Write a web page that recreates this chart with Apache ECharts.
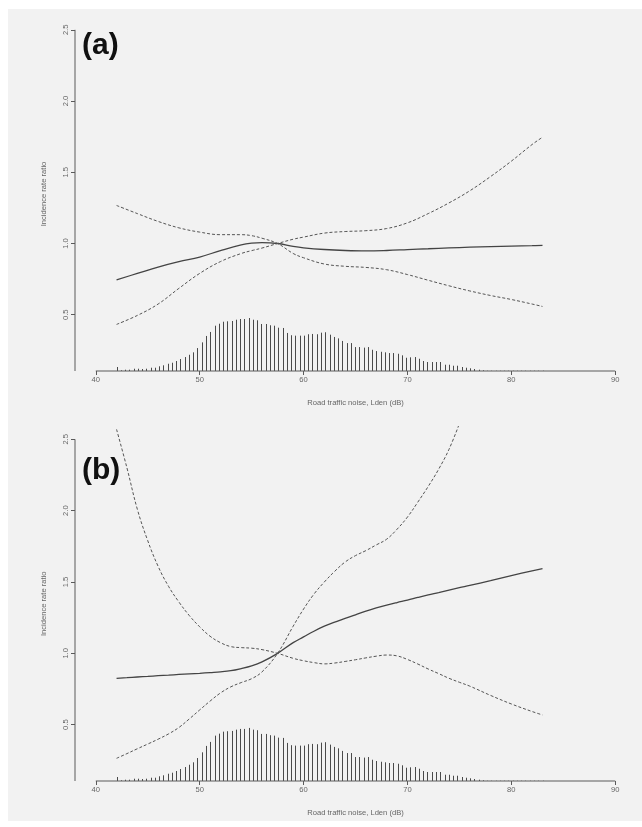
<!DOCTYPE html>
<html>
<head>
<meta charset="utf-8">
<script src="https://cdn.jsdelivr.net/npm/echarts@6/dist/echarts.min.js"></script>
<style>
html,body{margin:0;padding:0;background:#ffffff;}
#chart{width:642px;height:827px;}
</style>
</head>
<body>
<div id="chart"></div>
<script>
// ---- data ----
const xTicks = [40, 50, 60, 70, 80, 90];
const yTicks = [0.5, 1.0, 1.5, 2.0, 2.5];
const xRange = [38, 92];
const yRange = [0.105, 2.59];
const xAxisEnds = [40, 90];
const yAxisTop = 2.5;

// histogram of exposure (bin heights in IRR units above the base line)
const binStart = 42;
const binWidth = 0.41;
const histH = [
  0.028,0.005,0.009,0.009,0.016,0.016,0.014,0.016,0.023,0.023,
  0.033,0.040,0.051,0.058,0.070,0.084,0.098,0.114,0.131,0.161,
  0.201,0.246,0.274,0.318,0.332,0.346,0.349,0.351,0.360,0.365,
  0.365,0.372,0.360,0.356,0.330,0.330,0.321,0.318,0.304,0.302,
  0.267,0.251,0.248,0.248,0.248,0.258,0.260,0.258,0.269,0.272,
  0.255,0.239,0.229,0.211,0.196,0.196,0.168,0.168,0.164,0.168,
  0.149,0.140,0.135,0.131,0.126,0.126,0.121,0.110,0.093,0.096,
  0.098,0.086,0.070,0.063,0.063,0.063,0.063,0.044,0.044,0.037,
  0.037,0.028,0.023,0.019,0.014,0.009,0.005,0.002,0.002,0.002,
  0.002,0.002,0.002,0.002,0.002,0.002,0.002,0.002,0.002,0.002,
  0.002
];

// panel (a)
const aX    = [42,44,46,48,50,52,54,55,56,57.5,59,60,62,64,66,68,70,72,74,76,78,80,82,83];
const aFit  = [0.745,0.79,0.835,0.873,0.905,0.95,0.99,1.002,1.006,1.0,0.98,0.97,0.958,0.951,0.948,0.951,0.957,0.963,0.969,0.974,0.978,0.982,0.985,0.987];
const aCiA  = [1.267,1.21,1.155,1.11,1.08,1.062,1.062,1.055,1.037,1.0,0.93,0.9,0.856,0.84,0.832,0.816,0.782,0.742,0.703,0.667,0.635,0.607,0.575,0.558];
const aCiB  = [0.432,0.495,0.575,0.685,0.79,0.873,0.93,0.95,0.968,1.0,1.03,1.045,1.073,1.084,1.09,1.105,1.145,1.21,1.285,1.37,1.47,1.578,1.695,1.746];

// panel (b)
const bX    = [42,43,44,45,46,47,48,49,50,51,52,53,54,55,56,57.5,59,60,61,62,63,64,65,66,67,68,69,70,71,72,73,74,75,76,78,80,82,83];
const bFit  = [0.825,0.829,0.834,0.838,0.843,0.847,0.852,0.856,0.860,0.865,0.870,0.878,0.893,0.912,0.94,1.0,1.075,1.115,1.155,1.19,1.218,1.245,1.27,1.295,1.318,1.338,1.356,1.373,1.392,1.41,1.426,1.443,1.46,1.476,1.51,1.545,1.578,1.593];
const bCiA  = [2.57,2.30,2.01,1.79,1.61,1.47,1.36,1.265,1.186,1.12,1.075,1.047,1.04,1.036,1.026,1.0,0.965,0.948,0.935,0.926,0.932,0.943,0.955,0.968,0.98,0.988,0.982,0.957,0.925,0.89,0.858,0.825,0.797,0.77,0.705,0.645,0.592,0.568];
const bCiBX = [42,43,44,45,46,47,48,49,50,51,52,53,54,55,56,57.5,59,60,61,62,63,64,65,66,67,68,69,70,71,72,73,74,75];
const bCiB  = [0.264,0.297,0.331,0.364,0.398,0.435,0.48,0.54,0.603,0.665,0.722,0.765,0.795,0.822,0.87,1.0,1.19,1.31,1.415,1.50,1.575,1.64,1.685,1.72,1.76,1.80,1.87,1.955,2.06,2.17,2.29,2.43,2.61];

const xName = 'Road traffic noise, Lden (dB)';
const yName = 'Incidence rate ratio';

// ---- build ----
const pairs = (xs, ys) => ys.map((v, i) => [xs[i], v]);
const histData = histH.map((h, i) => [binStart + i * binWidth, h]);

const FONT = 'Liberation Sans, Arial, sans-serif';
const AX = '#5a5a5a';
const TXT = '#666666';

function xAxisCfg(gi) {
  return {
    gridIndex: gi, type: 'value', min: xRange[0], max: xRange[1],
    axisLine: {show: false}, splitLine: {show: false},
    axisTick: {show: true, customValues: xTicks, length: 4, lineStyle: {color: AX, width: 1}},
    axisLabel: {customValues: xTicks, margin: 5, fontSize: 7.6, color: TXT, fontFamily: FONT},
    name: xName, nameLocation: 'middle', nameGap: 28,
    nameTextStyle: {fontSize: 7.6, color: TXT, fontFamily: FONT}
  };
}
function yAxisCfg(gi) {
  return {
    gridIndex: gi, type: 'value', min: yRange[0], max: yRange[1],
    axisLine: {show: false}, splitLine: {show: false},
    axisTick: {show: true, customValues: yTicks, length: 4, lineStyle: {color: AX, width: 1}},
    axisLabel: {customValues: yTicks, rotate: 90, margin: 5, fontSize: 7.6, color: TXT, fontFamily: FONT,
      formatter: v => Number(v).toFixed(1)},
    name: yName, nameLocation: 'middle', nameGap: 27, nameRotate: 90,
    nameTextStyle: {fontSize: 7.6, color: TXT, fontFamily: FONT}
  };
}
function lineSeries(gi, data, dashed) {
  return {
    type: 'line', xAxisIndex: gi, yAxisIndex: gi, data: data, smooth: 0.4,
    showSymbol: false, symbol: 'none', clip: true, silent: true,
    lineStyle: dashed ? {color: '#555', width: 1, type: [3, 2]} : {color: '#444', width: 1.3, type: 'solid'},
    z: 5
  };
}
function axisLineSeries(gi, data) {
  return {
    type: 'line', xAxisIndex: gi, yAxisIndex: gi, data: data, clip: false,
    showSymbol: false, symbol: 'none', silent: true,
    lineStyle: {color: AX, width: 1}, z: 3
  };
}
function histSeries(gi) {
  return {
    type: 'custom', xAxisIndex: gi, yAxisIndex: gi, data: histData, silent: true, clip: false,
    renderItem: function (params, api) {
      const x = api.value(0), h = api.value(1);
      const p0 = api.coord([x, yRange[0]]);
      const p1 = api.coord([x, yRange[0] + h]);
      const px = Math.round(p0[0]) + 0.5;
      return {type: 'line', shape: {x1: px, y1: p0[1], x2: px, y2: p1[1]},
        style: {stroke: '#4a4a4a', lineWidth: 1}};
    },
    z: 2
  };
}

const option = {
  backgroundColor: '#ffffff',
  animation: false,
  graphic: [
    {type: 'rect', left: 8, top: 9, shape: {width: 634, height: 812}, style: {fill: '#f2f2f2'}, z: -10, silent: true},
    {type: 'text', left: 82, top: 31, style: {text: '(a)', font: 'bold 30px Liberation Sans, Arial, sans-serif', fill: '#111'}, z: 10},
    {type: 'text', left: 82, top: 456, style: {text: '(b)', font: 'bold 30px Liberation Sans, Arial, sans-serif', fill: '#111'}, z: 10}
  ],
  grid: [
    {left: 75, top: 17, width: 561, height: 354},
    {left: 75, top: 426.5, width: 561, height: 354.5}
  ],
  xAxis: [xAxisCfg(0), xAxisCfg(1)],
  yAxis: [yAxisCfg(0), yAxisCfg(1)],
  series: [
    axisLineSeries(0, [[xAxisEnds[0], yRange[0]], [xAxisEnds[1], yRange[0]]]),
    axisLineSeries(0, [[xRange[0], yRange[0]], [xRange[0], yAxisTop]]),
    histSeries(0),
    lineSeries(0, pairs(aX, aFit), false),
    lineSeries(0, pairs(aX, aCiA), true),
    lineSeries(0, pairs(aX, aCiB), true),
    axisLineSeries(1, [[xAxisEnds[0], yRange[0]], [xAxisEnds[1], yRange[0]]]),
    axisLineSeries(1, [[xRange[0], yRange[0]], [xRange[0], yAxisTop]]),
    histSeries(1),
    lineSeries(1, pairs(bX, bFit), false),
    lineSeries(1, pairs(bX, bCiA), true),
    lineSeries(1, pairs(bCiBX, bCiB), true)
  ]
};

const chart = echarts.init(document.getElementById('chart'), null, {renderer: 'canvas'});
chart.setOption(option);
</script>
</body>
</html>
